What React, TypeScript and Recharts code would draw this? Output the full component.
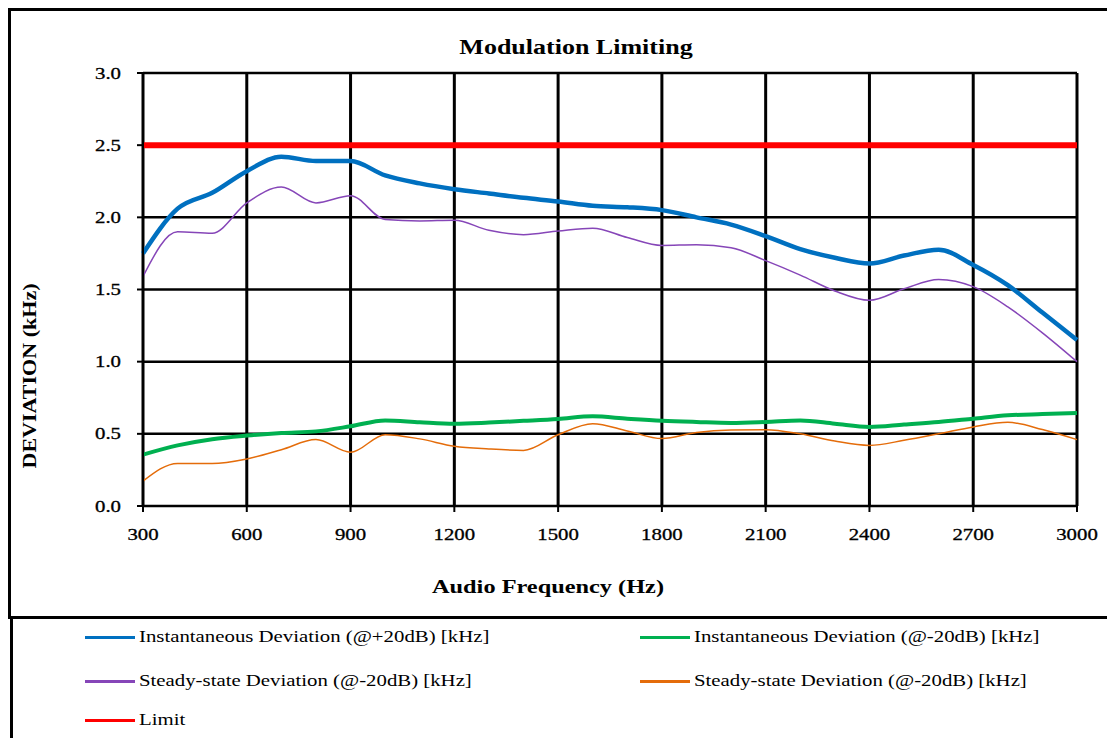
import { LineChart, Line, XAxis, YAxis, CartesianGrid, Legend, Label } from "recharts"

const frequencyHz = [300, 400, 500, 600, 700, 800, 900, 1000, 1100, 1200, 1300, 1400, 1500, 1600, 1700, 1800, 1900, 2000, 2100, 2200, 2300, 2400, 2500, 2600, 2700, 2800, 2900, 3000]

const instPlus20 = [1.75, 2.06, 2.17, 2.32, 2.42, 2.39, 2.39, 2.29, 2.235, 2.195, 2.165, 2.135, 2.11, 2.08, 2.07, 2.05, 2.0, 1.95, 1.87, 1.78, 1.72, 1.68, 1.735, 1.775, 1.67, 1.53, 1.34, 1.15]
const instMinus20 = [0.356, 0.42, 0.463, 0.488, 0.506, 0.517, 0.552, 0.593, 0.58, 0.57, 0.578, 0.59, 0.603, 0.621, 0.605, 0.591, 0.582, 0.575, 0.582, 0.593, 0.57, 0.548, 0.565, 0.582, 0.605, 0.628, 0.637, 0.645]
const steadyUpper = [1.59, 1.9, 1.89, 2.1, 2.21, 2.1, 2.15, 1.985, 1.975, 1.98, 1.91, 1.88, 1.905, 1.925, 1.86, 1.805, 1.81, 1.79, 1.7, 1.6, 1.49, 1.425, 1.505, 1.57, 1.52, 1.38, 1.2, 1.0]
const steadyLower = [0.172, 0.295, 0.294, 0.326, 0.39, 0.46, 0.372, 0.494, 0.465, 0.414, 0.395, 0.385, 0.494, 0.57, 0.52, 0.467, 0.51, 0.527, 0.529, 0.5, 0.45, 0.42, 0.455, 0.5, 0.548, 0.58, 0.53, 0.46]
const limitKHz = 2.5

const xTicks = [300, 600, 900, 1200, 1500, 1800, 2100, 2400, 2700, 3000]
const yTicks = [0, 0.5, 1, 1.5, 2, 2.5, 3]

const seriesOrder = ["instPlus", "instMinus", "steadyUp", "steadyLow", "limit"]

const data = frequencyHz.map((f, i) => ({
  f,
  instPlus: instPlus20[i],
  instMinus: instMinus20[i],
  steadyUp: steadyUpper[i],
  steadyLow: steadyLower[i],
  limit: limitKHz,
}))

const FONT = "'Liberation Serif', 'Times New Roman', serif"
const STRETCH = 1.3

const XTick = (props: any) => {
  const { x, y, payload } = props
  return (
    <g transform={`translate(${x},${y})`}>
      <text transform={`scale(${STRETCH},1)`} textAnchor="middle" dy={12} fontSize={16} fontFamily={FONT} fill="#000" stroke="#000" strokeWidth={0.3}>
        {payload.value}
      </text>
    </g>
  )
}

const YTick = (props: any) => {
  const { x, y, payload } = props
  return (
    <g transform={`translate(${x},${y})`}>
      <text transform={`scale(${STRETCH},1)`} textAnchor="end" dy={5.5} fontSize={16} fontFamily={FONT} fill="#000" stroke="#000" strokeWidth={0.3}>
        {Number(payload.value).toFixed(1)}
      </text>
    </g>
  )
}

const legendSpots = [
  { left: 77, top: 620 },
  { left: 632, top: 620 },
  { left: 77, top: 664 },
  { left: 632, top: 664 },
  { left: 77, top: 703 },
]

const LegendGrid = (props: any) => {
  const items = [...(props.payload || [])].sort(
    (a: any, b: any) => seriesOrder.indexOf(a.dataKey) - seriesOrder.indexOf(b.dataKey)
  )
  return (
    <div style={{ position: "relative", width: 1107, height: 118 }}>
      {items.map((item: any, i: number) => (
        <div
          key={item.dataKey}
          style={{
            position: "absolute",
            left: legendSpots[i].left,
            top: legendSpots[i].top - 612,
            height: 18,
            display: "flex",
            alignItems: "center",
            whiteSpace: "nowrap",
          }}
        >
          <span style={{ display: "inline-block", width: 50, height: 3, background: item.color }} />
          <span
            style={{
              display: "inline-block",
              marginLeft: 4,
              fontFamily: FONT,
              fontSize: 16,
              color: "#000",
              transform: `scaleX(${STRETCH})`,
              transformOrigin: "left center",
            }}
          >
            {item.value}
          </span>
        </div>
      ))}
    </div>
  )
}

export default function App() {
  return (
    <div style={{ position: "relative", width: 1107, height: 730, overflow: "hidden", background: "#fff" }}>
      <div
        style={{
          position: "absolute",
          left: 0,
          top: 0,
          width: 1200,
          height: 605,
          border: "3px solid #000",
          boxSizing: "content-box",
        }}
      />
      <div
        style={{
          position: "absolute",
          left: 2,
          top: 608,
          width: 1200,
          height: 200,
          borderLeft: "3px solid #000",
          borderTop: "3px solid #000",
        }}
      />
      <div
        style={{
          position: "absolute",
          left: 568,
          top: 28,
          transform: `translateX(-50%) scaleX(${STRETCH})`,
          fontFamily: FONT,
          fontWeight: "bold",
          fontSize: 20,
          whiteSpace: "nowrap",
          color: "#000",
        }}
      >
        Modulation Limiting
      </div>
      <div style={{ position: "absolute", left: 0, top: 0 }}>
        <LineChart width={1107} height={730} data={data} margin={{ top: 65, right: 38, bottom: 192, left: 55 }}>
          <CartesianGrid horizontal={false} stroke="#000" strokeWidth={3} />
          <CartesianGrid vertical={false} stroke="#000" strokeWidth={2.5} />
          <XAxis
            dataKey="f"
            type="number"
            domain={[300, 3000]}
            ticks={xTicks}
            height={40}
            axisLine={{ stroke: "#000", strokeWidth: 2 }}
            tickLine={{ stroke: "#000", strokeWidth: 2 }}
            tickSize={6}
            tickMargin={16}
            tick={<XTick />}
          >
            <Label
              content={() => (
                <text
                  x={540}
                  y={585}
                  textAnchor="middle"
                  fontFamily={FONT}
                  fontWeight="bold"
                  fontSize={18}
                  textLength={232}
                  lengthAdjust="spacingAndGlyphs"
                  fill="#000"
                >
                  Audio Frequency (Hz)
                </text>
              )}
            />
          </XAxis>
          <YAxis
            type="number"
            domain={[0, 3]}
            ticks={yTicks}
            width={80}
            axisLine={{ stroke: "#000", strokeWidth: 2 }}
            tickLine={{ stroke: "#000", strokeWidth: 2 }}
            tickSize={6}
            tickMargin={16}
            tick={<YTick />}
          >
            <Label
              content={() => (
                <text
                  transform="translate(22,368) rotate(-90)"
                  x={0}
                  y={6}
                  textAnchor="middle"
                  fontFamily={FONT}
                  fontWeight="bold"
                  fontSize={19}
                  textLength={185}
                  lengthAdjust="spacingAndGlyphs"
                  fill="#000"
                >
                  DEVIATION (kHz)
                </text>
              )}
            />
          </YAxis>
          <Legend
            layout="horizontal"
            verticalAlign="middle"
            align="center"
            wrapperStyle={{ top: 612, left: 0, width: 1107, height: 118 }}
            content={<LegendGrid />}
          />
          <Line type="monotone" dataKey="instPlus" name="Instantaneous Deviation (@+20dB) [kHz]" stroke="#0070C0" strokeWidth={4.5} dot={false} isAnimationActive={false} />
          <Line type="monotone" dataKey="instMinus" name="Instantaneous Deviation (@-20dB) [kHz]" stroke="#00B050" strokeWidth={4} dot={false} isAnimationActive={false} />
          <Line type="monotone" dataKey="steadyUp" name="Steady-state Deviation (@-20dB) [kHz]" stroke="#8646B8" strokeWidth={1.5} dot={false} isAnimationActive={false} />
          <Line type="monotone" dataKey="steadyLow" name="Steady-state Deviation (@-20dB) [kHz]" stroke="#E46C0A" strokeWidth={1.5} dot={false} isAnimationActive={false} />
          <Line type="linear" dataKey="limit" name="Limit" stroke="#FF0000" strokeWidth={6} dot={false} isAnimationActive={false} />
        </LineChart>
      </div>
    </div>
  )
}
